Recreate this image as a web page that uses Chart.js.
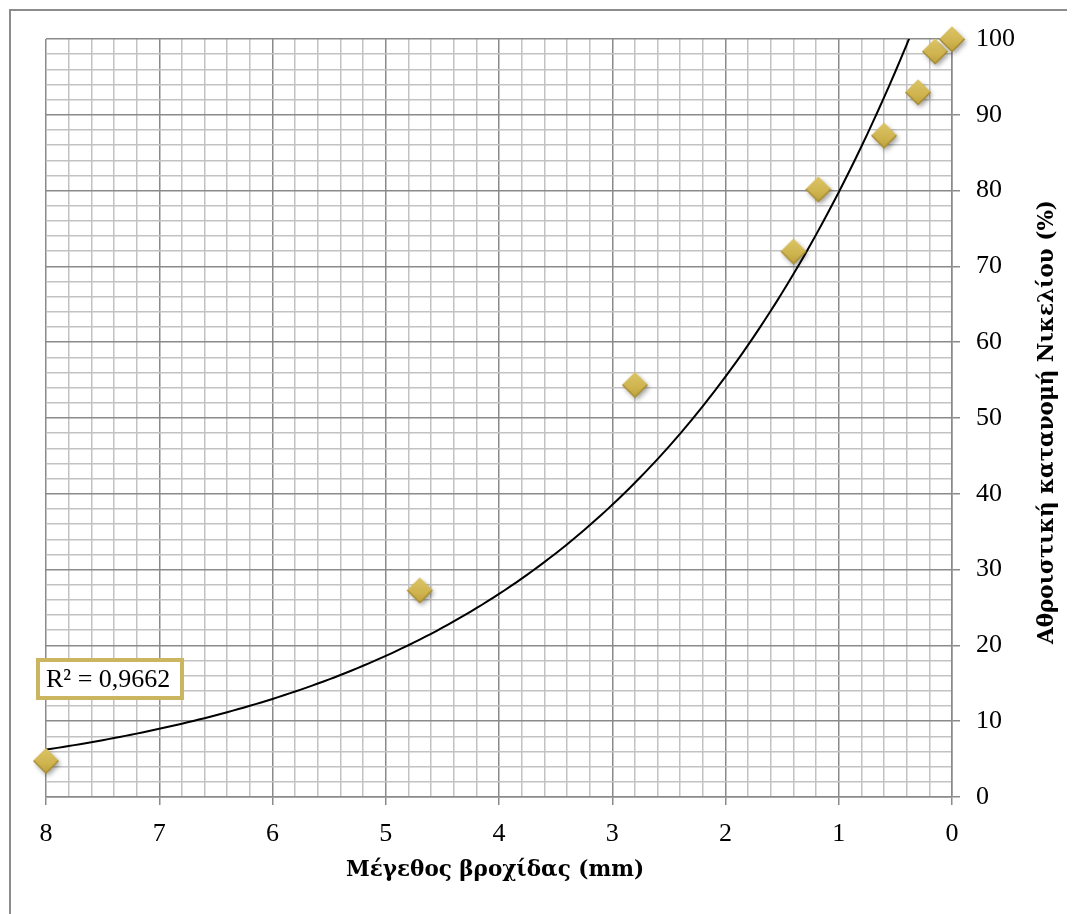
<!DOCTYPE html>
<html>
<head>
<meta charset="utf-8">
<script src="https://cdn.jsdelivr.net/npm/chart.js@4"></script>
<style>
  html, body { margin: 0; padding: 0; background: #fff; }
  #wrap { position: relative; width: 1076px; height: 914px; }
  #frame {
    position: absolute; left: 9px; top: 9px; width: 1058px; height: 905px;
    border-top: 2px solid #8c8c8c; border-left: 2px solid #8c8c8c;
    box-sizing: border-box; pointer-events: none;
  }
  canvas { position: absolute; left: 0; top: 0; }
</style>
</head>
<body>
<div id="wrap">
  <div id="frame"></div>
  <canvas id="chart" width="1076" height="914"></canvas>
</div>
<script>
const meshSize = [8, 4.7, 2.8, 1.4, 1.18, 0.6, 0.3, 0.15, 0];          // mm
const cumulativeNi = [4.8, 27.3, 54.4, 72.0, 80.2, 87.3, 93.0, 98.4, 100]; // %

const xTitle = 'Μέγεθος βροχίδας (mm)';
const yTitle = 'Αθροιστική κατανομή Νικελίου (%)';
const r2Label = 'R² = 0,9662';

const FONT = '"Liberation Serif", "DejaVu Serif", serif';
const TITLE_FONT = '"DejaVu Serif", "Liberation Serif", serif';

// exponential trend (same way the spreadsheet does it: least squares on ln y)
function expFit(xs, ys) {
    const n = xs.length;
    const ly = ys.map(v => Math.log(v));
    const mx = xs.reduce((a, b) => a + b, 0) / n;
    const my = ly.reduce((a, b) => a + b, 0) / n;
    let sxy = 0, sxx = 0;
    xs.forEach((x, i) => { sxy += (x - mx) * (ly[i] - my); sxx += (x - mx) * (x - mx); });
    const b = sxy / sxx;
    return { a: Math.exp(my - b * mx), b: b };
}
const fit = expFit(meshSize, cumulativeNi);
const xMin = Math.min(...meshSize), xMax = Math.max(...meshSize);
const trendPoints = [];
for (let i = 0; i <= 160; i++) {
    const x = xMin + (xMax - xMin) * i / 160;
    trendPoints.push({ x: x, y: fit.a * Math.exp(fit.b * x) });
}

// gold diamond marker with a soft shadow
function makeDiamond() {
    const c = document.createElement('canvas');
    c.width = 44; c.height = 44;
    const g = c.getContext('2d');
    const cx = 22, cy = 22, r = 12.5;
    const path = () => {
        g.beginPath();
        g.moveTo(cx, cy - r); g.lineTo(cx + r, cy); g.lineTo(cx, cy + r); g.lineTo(cx - r, cy);
        g.closePath();
    };
    g.save();
    g.shadowColor = 'rgba(0,0,0,0.38)';
    g.shadowBlur = 5; g.shadowOffsetX = 2; g.shadowOffsetY = 3;
    path();
    g.fillStyle = '#cdb350';
    g.fill();
    g.restore();
    const grad = g.createLinearGradient(0, cy - r, 0, cy + r);
    grad.addColorStop(0, '#dcc566');
    grad.addColorStop(0.6, '#cfb450');
    grad.addColorStop(1, '#bea13c');
    path();
    g.fillStyle = grad;
    g.fill();
    // darker lower edges
    g.beginPath();
    g.moveTo(cx + r, cy); g.lineTo(cx, cy + r); g.lineTo(cx - r, cy);
    g.strokeStyle = '#a88d33'; g.lineWidth = 1.5; g.stroke();
    return c;
}

const isMajorX = v => Math.abs(v - Math.round(v)) < 1e-6;
const isMajorY = v => Math.abs(v / 10 - Math.round(v / 10)) < 1e-6;

const decorPlugin = {
    id: 'decor',
    afterDraw(chart) {
        const ctx = chart.ctx, area = chart.chartArea;
        ctx.save();
        ctx.fillStyle = '#000';
        // x title
        ctx.font = 'bold 21.5px ' + TITLE_FONT;
        ctx.textAlign = 'center';
        ctx.textBaseline = 'middle';
        ctx.fillText(xTitle, (area.left + area.right) / 2 - 4, 870);
        // y title, reading bottom to top
        ctx.save();
        ctx.translate(1047, (area.top + area.bottom) / 2 + 4);
        ctx.rotate(-Math.PI / 2);
        ctx.fillText(yTitle, 0, 0);
        ctx.restore();
        // R² box
        ctx.fillStyle = '#fff';
        ctx.fillRect(38, 660, 144, 38);
        ctx.strokeStyle = '#cbb55f';
        ctx.lineWidth = 4;
        ctx.strokeRect(38, 660, 144, 38);
        ctx.fillStyle = '#000';
        ctx.font = '26px ' + FONT;
        ctx.textAlign = 'left';
        ctx.fillText(r2Label, 46, 680);
        ctx.restore();
    }
};

new Chart(document.getElementById('chart'), {
    type: 'scatter',
    data: {
        datasets: [
            {
                label: 'Νικέλιο',
                data: meshSize.map((x, i) => ({ x: x, y: cumulativeNi[i] })),
                pointStyle: makeDiamond(),
                pointRadius: 13,
                clip: false,
                order: 0
            },
            {
                label: 'Εκθετική τάση',
                type: 'line',
                data: trendPoints,
                borderColor: '#000',
                borderWidth: 2,
                pointRadius: 0,
                tension: 0,
                fill: false,
                order: 1
            }
        ]
    },
    plugins: [decorPlugin],
    options: {
        responsive: false,
        animation: false,
        events: [],
        layout: { padding: { left: 46, top: 39, right: 0, bottom: 0 } },
        plugins: { legend: { display: false }, tooltip: { enabled: false } },
        scales: {
            x: {
                type: 'linear',
                reverse: true,
                min: 0, max: 8,
                afterFit: (s) => { s.height = 117; },
                ticks: {
                    stepSize: 0.2,
                    autoSkip: false,
                    maxRotation: 0,
                    padding: 14,
                    color: '#000',
                    font: { family: FONT, size: 26 },
                    callback: (v) => isMajorX(v) ? String(Math.round(v)) : ''
                },
                grid: {
                    color: (c) => isMajorX(c.tick.value) ? '#8a8a8a' : '#c2c2c2',
                    lineWidth: 1.5,
                    tickLength: 8,
                    tickColor: (c) => isMajorX(c.tick.value) ? '#8a8a8a' : 'rgba(0,0,0,0)'
                },
                border: { color: '#8a8a8a', width: 1.5 }
            },
            y: {
                type: 'linear',
                position: 'right',
                min: 0, max: 100,
                afterFit: (s) => { s.width = 124; },
                ticks: {
                    stepSize: 2,
                    autoSkip: false,
                    padding: 16,
                    color: '#000',
                    font: { family: FONT, size: 26 },
                    callback: (v) => isMajorY(v) ? String(Math.round(v)) : ''
                },
                grid: {
                    color: (c) => isMajorY(c.tick.value) ? '#8a8a8a' : '#c2c2c2',
                    lineWidth: 1.5,
                    tickLength: 8,
                    tickColor: (c) => isMajorY(c.tick.value) ? '#8a8a8a' : 'rgba(0,0,0,0)'
                },
                border: { color: '#8a8a8a', width: 1.5 }
            }
        }
    }
});
</script>
</body>
</html>
